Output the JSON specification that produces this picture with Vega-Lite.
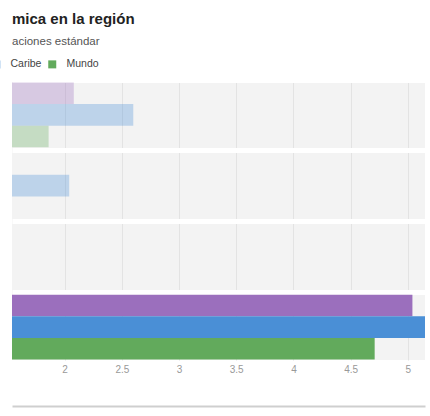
{
  "$schema": "https://vega.github.io/schema/vega-lite/v6.json",
  "width": 413,
  "height": 278,
  "autosize": {"type": "none"},
  "padding": {"left": 12, "top": 82, "right": 5, "bottom": 56},
  "background": "white",
  "config": {"font": "Liberation Sans", "view": {"fill": "#f3f3f3", "stroke": null}},
  "title": {
    "text": "mica en la región",
    "subtitle": "aciones estándar",
    "anchor": "start",
    "frame": "group",
    "fontSize": 15,
    "fontWeight": "bold",
    "color": "#222222",
    "subtitleFontSize": 11.5,
    "subtitleColor": "#555555",
    "subtitlePadding": 9,
    "offset": 12
  },
  "data": {
    "values": [
      {"categoria": "Tipo de cambio", "serie": "Sudamérica", "valor": 2.08},
      {"categoria": "Tipo de cambio", "serie": "Caribe", "valor": 2.6},
      {"categoria": "Tipo de cambio", "serie": "Mundo", "valor": 1.86},
      {"categoria": "Inflación", "serie": "Sudamérica", "valor": 1.3},
      {"categoria": "Inflación", "serie": "Caribe", "valor": 2.04},
      {"categoria": "Inflación", "serie": "Mundo", "valor": 1.2},
      {"categoria": "Tasa de interés", "serie": "Sudamérica", "valor": 1.2},
      {"categoria": "Tasa de interés", "serie": "Caribe", "valor": 1.45},
      {"categoria": "Tasa de interés", "serie": "Mundo", "valor": 1.1},
      {"categoria": "Bolsa", "serie": "Sudamérica", "valor": 5.04},
      {"categoria": "Bolsa", "serie": "Caribe", "valor": 5.3},
      {"categoria": "Bolsa", "serie": "Mundo", "valor": 4.71}
    ]
  },
  "mark": {"type": "bar", "clip": true},
  "encoding": {
    "y": {
      "field": "categoria",
      "type": "nominal",
      "sort": ["Tipo de cambio", "Inflación", "Tasa de interés", "Bolsa"],
      "scale": {"paddingInner": 0.07, "paddingOuter": 0},
      "axis": {
        "labels": false,
        "ticks": false,
        "domain": false,
        "title": null,
        "grid": true,
        "gridColor": "white",
        "gridWidth": 5,
        "bandPosition": 0,
        "tickOffset": -2.5,
        "minExtent": 0,
        "maxExtent": 0
      }
    },
    "yOffset": {
      "field": "serie",
      "sort": ["Sudamérica", "Caribe", "Mundo"],
      "scale": {"paddingInner": 0, "paddingOuter": 0.02}
    },
    "x": {
      "field": "valor",
      "type": "quantitative",
      "scale": {"domain": [1.54, 5.15], "nice": false, "zero": false},
      "axis": {
        "values": [2, 2.5, 3, 3.5, 4, 4.5, 5],
        "format": ".1~f",
        "title": null,
        "grid": true,
        "gridColor": "#e3e3e3",
        "ticks": false,
        "domain": true,
        "domainColor": "#cfcfcf",
        "domainWidth": 2,
        "offset": 46,
        "labelPadding": -42,
        "labelColor": "#999999",
        "labelFontSize": 10,
        "labelFlush": false
      }
    },
    "x2": {"datum": 0},
    "color": {
      "field": "serie",
      "type": "nominal",
      "scale": {"domain": ["Sudamérica", "Caribe", "Mundo"], "range": ["#9b6fbd", "#4a8fd6", "#62aa5c"]},
      "legend": {
        "orient": "none",
        "legendX": -21,
        "legendY": -23,
        "direction": "horizontal",
        "title": null,
        "values": ["Caribe", "Mundo"],
        "symbolType": "square",
        "symbolSize": 64,
        "symbolStrokeWidth": 0,
        "labelFontSize": 10.5,
        "labelColor": "#444444",
        "labelOffset": 9,
        "columnPadding": 5,
        "encode": {
          "symbols": {
            "fillOpacity": {"condition": {"test": "datum.value === 'Mundo'", "value": 1}, "value": 0}
          }
        }
      }
    },
    "opacity": {
      "condition": {"test": "datum.categoria === 'Bolsa'", "value": 1},
      "value": 0.32
    }
  }
}
